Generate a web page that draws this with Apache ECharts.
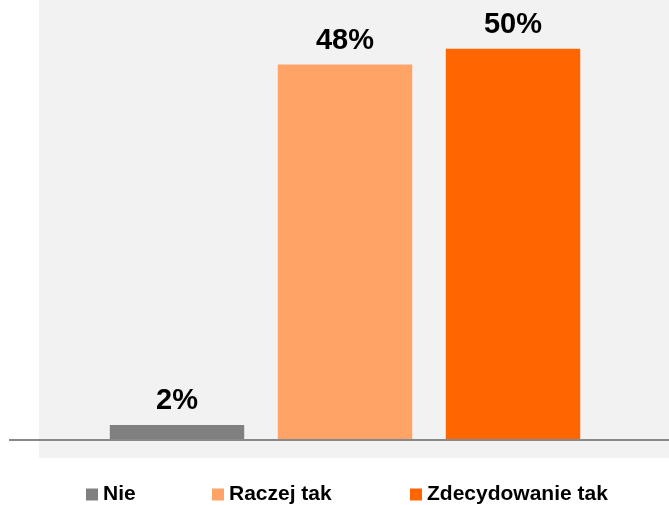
<!DOCTYPE html>
<html><head><meta charset="utf-8">
<script src="https://cdn.jsdelivr.net/npm/echarts@6/dist/echarts.min.js"></script>
<style>html,body{margin:0;padding:0;background:#fff}#c{width:669px;height:505px}</style>
</head><body><div id="c"></div>
<script>
var categories = ['Nie', 'Raczej tak', 'Zdecydowanie tak'];
var values = [1.8, 48, 50];
var valueLabels = ['2%', '48%', '50%'];
var colors = ['#808080', '#FFA366', '#FF6600'];
var legendLeft = [86, 212, 410];

var chart = echarts.init(document.getElementById('c'));
var series = categories.map(function (name, i) {
  var d = categories.map(function (_, j) { return j === i ? values[i] : '-'; });
  return {
    name: name, type: 'bar', stack: 'all', data: d,
    barCategoryGap: '20%',
    itemStyle: { color: colors[i] },
    label: {
      show: true, position: 'top', distance: 9,
      formatter: function () { return valueLabels[i]; },
      color: '#000', fontSize: 29, fontWeight: 'bold', fontFamily: 'Liberation Sans'
    }
  };
});
chart.setOption({
  animation: false,
  grid: { left: 93, right: 72, top: 2, bottom: 66 },
  xAxis: { type: 'category', data: categories, axisLine: { show: false }, axisTick: { show: false }, axisLabel: { show: false } },
  yAxis: { type: 'value', min: 0, max: 56, show: false, splitLine: { show: false } },
  legend: categories.map(function (name, i) {
    return {
      data: [name], left: legendLeft[i], top: 484, padding: 0,
      icon: 'rect', itemWidth: 12, itemHeight: 12,
      textStyle: { fontSize: 21, fontWeight: 'bold', fontFamily: 'Liberation Sans', color: '#000' }
    };
  }),
  graphic: [
    { type: 'rect', z: -10, shape: { x: 39, y: 0, width: 630, height: 458 }, style: { fill: '#F2F2F2' } },
    { type: 'line', z: 10, shape: { x1: 9, y1: 440, x2: 669, y2: 440 }, style: { stroke: '#898989', lineWidth: 2 } }
  ],
  series: series
});
</script></body></html>
